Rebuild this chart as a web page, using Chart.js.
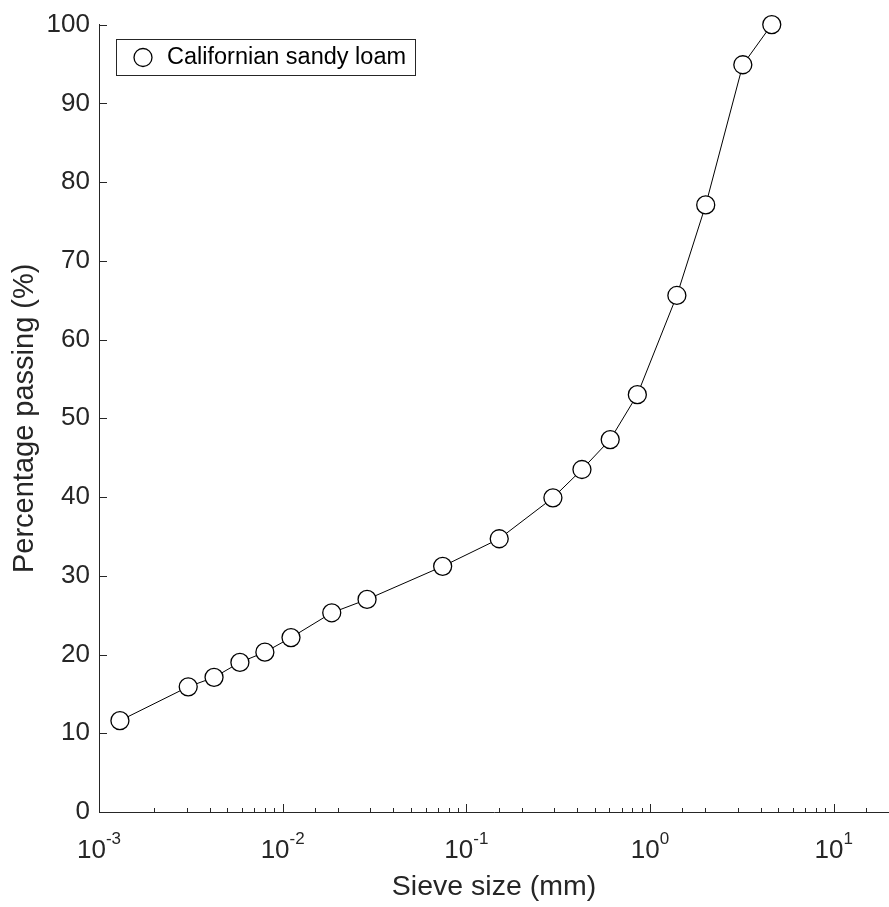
<!DOCTYPE html>
<html>
<head>
<meta charset="utf-8">
<script src="https://cdn.jsdelivr.net/npm/chart.js@4.4.0/dist/chart.umd.min.js"></script>
<style>
  html, body { margin: 0; padding: 0; background: #fff; }
</style>
</head>
<body>
<canvas id="sieveChart" width="889" height="907"></canvas>
<script>
// grain size distribution
const sieveSizes = [0.0013, 0.00306, 0.00423, 0.00585, 0.0080, 0.0111, 0.0185, 0.0288, 0.0743,
                    0.151, 0.296, 0.426, 0.607, 0.853, 1.40, 2.01, 3.20, 4.60];
const percentPassing = [11.6, 15.9, 17.1, 19.0, 20.3, 22.15, 25.3, 27.0, 31.2,
                        34.7, 39.9, 43.5, 47.3, 53.0, 65.6, 77.1, 94.9, 100];
const seriesLabel = 'Californian sandy loam';
const xDecades = [-3, -2, -1, 0, 1];
const yTickStep = 10;

const axisColor = '#262626';
const fontFamily = '"Liberation Sans", Arial, Helvetica, sans-serif';

// MATLAB-ish inward ticks, superscript decade labels and the boxed legend
const axisExtras = {
    id: 'axisExtras',
    afterDraw(chart) {
        const ctx = chart.ctx;
        const xs = chart.scales.x;
        const ys = chart.scales.y;
        const area = chart.chartArea;
        ctx.save();
        ctx.strokeStyle = axisColor;
        ctx.lineWidth = 1;

        xs.ticks.forEach(t => {
            const lg = Math.log10(t.value);
            const major = Math.abs(lg - Math.round(lg)) < 1e-6;
            const px = Math.round(xs.getPixelForValue(t.value)) + 0.5;
            ctx.beginPath();
            ctx.moveTo(px, area.bottom);
            ctx.lineTo(px, area.bottom - (major ? 8 : 4));
            ctx.stroke();
        });
        ys.ticks.forEach(t => {
            const py = Math.round(ys.getPixelForValue(t.value)) + 0.5;
            ctx.beginPath();
            ctx.moveTo(area.left, py);
            ctx.lineTo(area.left + 8, py);
            ctx.stroke();
        });

        // 10^n labels
        ctx.fillStyle = axisColor;
        ctx.textBaseline = 'alphabetic';
        xDecades.forEach(d => {
            const px = xs.getPixelForValue(Math.pow(10, d));
            const base = '10';
            const sup = String(d);
            ctx.font = '26px ' + fontFamily;
            const wb = ctx.measureText(base).width;
            ctx.font = '17px ' + fontFamily;
            const ws = ctx.measureText(sup).width;
            const left = px - (wb + ws) / 2;
            ctx.font = '26px ' + fontFamily;
            ctx.textAlign = 'left';
            ctx.fillText(base, left, 858);
            ctx.font = '17px ' + fontFamily;
            ctx.fillText(sup, left + wb, 844);
        });

        // legend box
        const bx = 116.5, by = 39.5, bw = 299, bh = 36;
        ctx.fillStyle = '#fff';
        ctx.fillRect(bx, by, bw, bh);
        ctx.strokeRect(bx, by, bw, bh);
        ctx.beginPath();
        ctx.arc(143, 57.5, 9, 0, Math.PI * 2);
        ctx.strokeStyle = '#000';
        ctx.lineWidth = 1.3;
        ctx.stroke();
        ctx.fillStyle = '#000';
        ctx.font = '23.5px ' + fontFamily;
        ctx.textAlign = 'left';
        ctx.textBaseline = 'middle';
        ctx.fillText(chart.data.datasets[0].label, 167, 58);
        ctx.restore();
    }
};

const ctx = document.getElementById('sieveChart').getContext('2d');
const sieveChart = new Chart(ctx, {
    type: 'line',
    data: {
        datasets: [{
            label: seriesLabel,
            data: sieveSizes.map((s, i) => ({ x: s, y: percentPassing[i] })),
            borderColor: '#000',
            borderWidth: 1,
            pointRadius: 9,
            pointBorderWidth: 1.3,
            pointBorderColor: '#000',
            pointBackgroundColor: '#fff',
            tension: 0,
            clip: false
        }]
    },
    options: {
        responsive: false,
        animation: false,
        devicePixelRatio: 1,
        layout: { autoPadding: false, padding: { top: 22, right: 0, left: 0, bottom: 0 } },
        plugins: {
            legend: { display: false },
            tooltip: { enabled: false }
        },
        scales: {
            x: {
                type: 'logarithmic',
                min: 0.001,
                max: 20,
                grid: { display: false },
                border: { display: true, color: axisColor, width: 1 },
                ticks: { display: false },
                title: {
                    display: true,
                    text: 'Sieve size (mm)',
                    color: axisColor,
                    font: { family: fontFamily, size: 28.5 },
                    padding: { top: 0, bottom: 3 }
                },
                afterFit(scale) { scale.height = 95; }
            },
            y: {
                min: 0,
                max: 100,
                grid: { display: false, drawTicks: false },
                border: { display: true, color: axisColor, width: 1 },
                ticks: {
                    stepSize: yTickStep,
                    color: axisColor,
                    padding: 9,
                    font: { family: fontFamily, size: 26 }
                },
                title: {
                    display: true,
                    text: 'Percentage passing (%)',
                    color: axisColor,
                    font: { family: fontFamily, size: 29 },
                    padding: { top: 8, bottom: 0 }
                },
                afterFit(scale) { scale.width = 99; }
            }
        }
    },
    plugins: [axisExtras]
});
</script>
</body>
</html>
